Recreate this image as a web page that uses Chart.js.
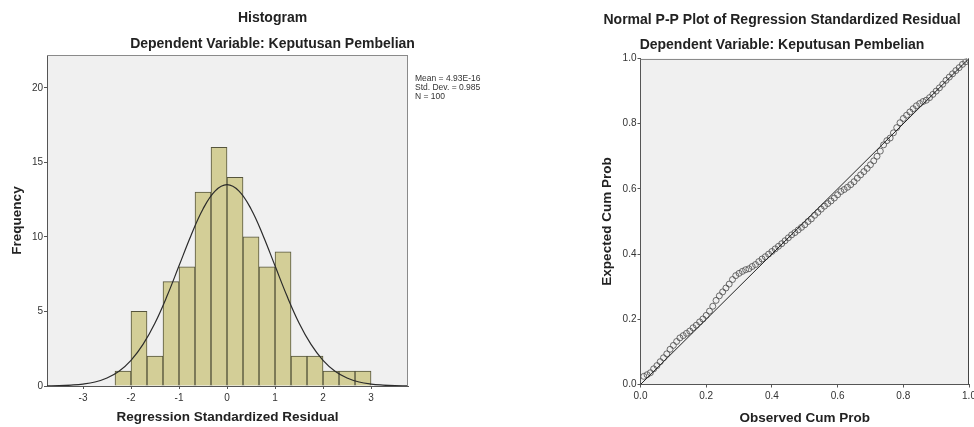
<!DOCTYPE html>
<html>
<head>
<meta charset="utf-8">
<script src="https://cdn.jsdelivr.net/npm/chart.js@4/dist/chart.umd.min.js"></script>
<style>
  html, body { margin: 0; padding: 0; background: #ffffff; overflow: hidden; width: 974px; height: 427px; }
  #left { position: absolute; left: 0; top: 0; }
  #right { position: absolute; left: 590px; top: 0; }
</style>
</head>
<body>
<canvas id="left" width="545" height="427" style="width:545px;height:427px"></canvas>
<canvas id="right" width="384" height="427" style="width:384px;height:427px"></canvas>
<script>
// ---------- Histogram data ----------
const binCenters = [-2.1667, -1.8333, -1.5, -1.1667, -0.8333, -0.5, -0.1667, 0.1667,
                    0.5, 0.8333, 1.1667, 1.5, 1.8333, 2.1667, 2.5, 2.8333];
const binCounts  = [1, 5, 2, 7, 8, 13, 16, 14, 10, 8, 9, 2, 2, 1, 1, 1];

// normal curve
const curveX = [-3.75, -3.5, -3.25, -3, -2.75, -2.5, -2.25, -2, -1.75, -1.5, -1.25, -1, -0.75, -0.5, -0.25, 0,
                0.25, 0.5, 0.75, 1, 1.25, 1.5, 1.75, 2, 2.25, 2.5, 2.75, 3, 3.25, 3.5, 3.75];
const curveY = [0.01, 0.02, 0.06, 0.13, 0.27, 0.54, 0.99, 1.72, 2.79, 4.23, 6.03, 8.06, 10.10, 11.87, 13.07, 13.5,
                13.07, 11.87, 10.10, 8.06, 6.03, 4.23, 2.79, 1.72, 0.99, 0.54, 0.27, 0.13, 0.06, 0.02, 0.01];

const histXTicks = [-3, -2, -1, 0, 1, 2, 3];
const histYTicks = [0, 5, 10, 15, 20];
const statLines = ['Mean = 4.93E-16', 'Std. Dev. = 0.985', 'N = 100'];

// ---------- P-P plot data ----------
const observedCum = [0.01,0.02,0.03,0.04,0.05,0.06,0.07,0.08,0.09,0.10,
                     0.11,0.12,0.13,0.14,0.15,0.16,0.17,0.18,0.19,0.20,
                     0.21,0.22,0.23,0.24,0.25,0.26,0.27,0.28,0.29,0.30,
                     0.31,0.32,0.33,0.34,0.35,0.36,0.37,0.38,0.39,0.40,
                     0.41,0.42,0.43,0.44,0.45,0.46,0.47,0.48,0.49,0.50,
                     0.51,0.52,0.53,0.54,0.55,0.56,0.57,0.58,0.59,0.60,
                     0.61,0.62,0.63,0.64,0.65,0.66,0.67,0.68,0.69,0.70,
                     0.71,0.72,0.73,0.74,0.75,0.76,0.77,0.78,0.79,0.80,
                     0.81,0.82,0.83,0.84,0.85,0.86,0.87,0.88,0.89,0.90,
                     0.91,0.92,0.93,0.94,0.95,0.96,0.97,0.98,0.99,1.00];
const expectedCum = [0.025,0.030,0.036,0.048,0.058,0.070,0.082,0.094,0.108,0.120,
                     0.132,0.143,0.150,0.157,0.164,0.174,0.182,0.192,0.201,0.212,
                     0.225,0.240,0.258,0.272,0.284,0.296,0.308,0.322,0.334,0.341,
                     0.347,0.352,0.355,0.362,0.368,0.377,0.385,0.392,0.400,0.408,
                     0.416,0.424,0.432,0.441,0.450,0.459,0.466,0.474,0.482,0.490,
                     0.500,0.508,0.519,0.528,0.538,0.547,0.555,0.563,0.572,0.582,
                     0.592,0.598,0.605,0.613,0.622,0.633,0.643,0.653,0.663,0.674,
                     0.686,0.700,0.716,0.735,0.748,0.756,0.772,0.788,0.803,0.816,
                     0.826,0.836,0.846,0.855,0.862,0.868,0.872,0.880,0.890,0.900,
                     0.910,0.921,0.933,0.943,0.953,0.963,0.972,0.982,0.990,0.996];
const diagX = [0, 1];
const diagY = [0, 1];
const ppTicks = [0, 0.2, 0.4, 0.6, 0.8, 1.0];

// ---------- shared styling ----------
const FONT = "'Liberation Sans', Arial, sans-serif";
const PLOT_BG = '#f0f0f0';
const AXIS_COLOR = '#555555';
const TITLE_SIZE = 14;
const AXIS_TITLE_SIZE = 13.5;
const TICK_SIZE = 10;

function makeFrame(rightColor) {
  return {
    id: 'frame',
    beforeDraw(chart) {
      const a = chart.chartArea, ctx = chart.ctx;
      ctx.save();
      ctx.fillStyle = PLOT_BG;
      ctx.fillRect(a.left, a.top, a.right - a.left, a.bottom - a.top);
      ctx.restore();
    },
    afterDraw(chart) {
      const a = chart.chartArea, ctx = chart.ctx;
      ctx.save();
      ctx.lineWidth = 1;
      ctx.strokeStyle = '#8a8a8a';
      ctx.beginPath();
      ctx.moveTo(a.left, Math.round(a.top) + 0.5);
      ctx.lineTo(a.right, Math.round(a.top) + 0.5);
      ctx.stroke();
      ctx.strokeStyle = rightColor;
      ctx.beginPath();
      ctx.moveTo(Math.round(a.right) - 0.5, a.top);
      ctx.lineTo(Math.round(a.right) - 0.5, a.bottom);
      ctx.stroke();
      ctx.restore();
    }
  };
}

const statsPlugin = {
  id: 'stats',
  afterDraw(chart) {
    const ctx = chart.ctx;
    ctx.save();
    ctx.fillStyle = '#333333';
    ctx.font = '8.5px ' + FONT;
    ctx.textBaseline = 'middle';
    statLines.forEach((t, i) => ctx.fillText(t, 415, 79 + i * 9));
    ctx.restore();
  }
};

function fixedTicks(arr) {
  return function (scale) { scale.ticks = arr.map(v => ({ value: v })); };
}

function spacerAxis(w) {
  return {
    position: 'right', display: true, min: 0, max: 1,
    grid: { display: false, drawTicks: false },
    border: { display: false },
    ticks: { display: false },
    afterFit(s) { s.width = w; }
  };
}

// ---------- Histogram ----------
new Chart(document.getElementById('left'), {
  type: 'bar',
  data: {
    datasets: [
      {
        type: 'line',
        order: 0,
        data: curveX.map((x, i) => ({ x: x, y: curveY[i] })),
        borderColor: '#2b2b2b',
        borderWidth: 1.2,
        pointRadius: 0,
        tension: 0.4,
        fill: false
      },
      {
        type: 'bar',
        order: 1,
        data: binCenters.map((x, i) => ({ x: x, y: binCounts[i] })),
        backgroundColor: '#d3ce97',
        borderColor: '#55543c',
        borderWidth: 1,
        borderSkipped: 'start',
        barPercentage: 1,
        categoryPercentage: 1
      }
    ]
  },
  options: {
    responsive: false,
    animation: false,
    devicePixelRatio: 1,
    layout: { padding: 0 },
    plugins: {
      legend: { display: false },
      tooltip: { enabled: false },
      title: {
        display: true, text: 'Histogram', color: '#222',
        font: { family: FONT, size: TITLE_SIZE, weight: 'bold' },
        padding: { top: 9.6, bottom: 4.6 }
      },
      subtitle: {
        display: true, text: 'Dependent Variable: Keputusan Pembelian', color: '#222',
        font: { family: FONT, size: TITLE_SIZE, weight: 'bold' },
        padding: { top: 4.6, bottom: 2.6 }
      }
    },
    scales: {
      x: {
        type: 'linear', offset: false, min: -3.75, max: 3.77,
        afterBuildTicks: fixedTicks(histXTicks),
        afterFit(s) { s.height = 41; s.paddingLeft = 0; s.paddingRight = 0; },
        grid: { offset: false, drawOnChartArea: false, drawTicks: true, tickLength: 3, color: AXIS_COLOR },
        border: { display: true, color: AXIS_COLOR, width: 1 },
        ticks: { color: '#333', font: { family: FONT, size: TICK_SIZE }, padding: 3, autoSkip: false, maxRotation: 0 },
        title: {
          display: true, text: 'Regression Standardized Residual', color: '#222',
          font: { family: FONT, size: AXIS_TITLE_SIZE, weight: 'bold' }, padding: { top: 0, bottom: 1.9 }
        }
      },
      y: {
        min: 0, max: 22.2,
        afterBuildTicks: fixedTicks(histYTicks),
        afterFit(s) { s.width = 47; },
        grid: { drawOnChartArea: false, drawTicks: true, tickLength: 3, color: AXIS_COLOR },
        border: { display: true, color: AXIS_COLOR, width: 1 },
        ticks: { color: '#333', font: { family: FONT, size: TICK_SIZE }, padding: 1 },
        title: {
          display: true, text: 'Frequency', color: '#222',
          font: { family: FONT, size: AXIS_TITLE_SIZE, weight: 'bold' }, padding: { top: 9.4, bottom: 0 }
        }
      },
      yspace: spacerAxis(137)
    }
  },
  plugins: [makeFrame('#8a8a8a'), statsPlugin]
});

// ---------- P-P plot ----------
new Chart(document.getElementById('right'), {
  type: 'scatter',
  data: {
    datasets: [
      {
        type: 'line',
        order: 0,
        data: diagX.map((x, i) => ({ x: x, y: diagY[i] })),
        borderColor: '#222222',
        borderWidth: 1,
        pointRadius: 0,
        showLine: true,
        fill: false
      },
      {
        order: 1,
        data: observedCum.map((x, i) => ({ x: x, y: expectedCum[i] })),
        pointRadius: 3,
        pointStyle: 'circle',
        borderColor: '#4a4a4a',
        backgroundColor: 'rgba(0,0,0,0)',
        borderWidth: 0.8
      }
    ]
  },
  options: {
    responsive: false,
    animation: false,
    devicePixelRatio: 1,
    layout: { padding: 0 },
    plugins: {
      legend: { display: false },
      tooltip: { enabled: false },
      title: {
        display: true, text: 'Normal P-P Plot of Regression Standardized Residual', color: '#222',
        font: { family: FONT, size: TITLE_SIZE, weight: 'bold' },
        padding: { top: 11.6, bottom: 4.1 }
      },
      subtitle: {
        display: true, text: 'Dependent Variable: Keputusan Pembelian', color: '#222',
        font: { family: FONT, size: TITLE_SIZE, weight: 'bold' },
        padding: { top: 4.1, bottom: 5.1 }
      }
    },
    scales: {
      x: {
        type: 'linear', min: 0, max: 1,
        afterBuildTicks: fixedTicks(ppTicks),
        afterFit(s) { s.height = 42.5; s.paddingLeft = 0; s.paddingRight = 0; },
        grid: { drawOnChartArea: false, drawTicks: true, tickLength: 3, color: AXIS_COLOR },
        border: { display: true, color: AXIS_COLOR, width: 1 },
        ticks: { color: '#333', font: { family: FONT, size: TICK_SIZE }, padding: 3, autoSkip: false, maxRotation: 0,
                 callback: v => v.toFixed(1) },
        title: {
          display: true, text: 'Observed Cum Prob', color: '#222',
          font: { family: FONT, size: AXIS_TITLE_SIZE, weight: 'bold' }, padding: { top: 0, bottom: 0.9 }
        }
      },
      y: {
        min: 0, max: 1,
        afterBuildTicks: fixedTicks(ppTicks),
        afterFit(s) { s.width = 50.5; s.paddingTop = 0; s.paddingBottom = 0; },
        grid: { drawOnChartArea: false, drawTicks: true, tickLength: 3, color: AXIS_COLOR },
        border: { display: true, color: AXIS_COLOR, width: 1 },
        ticks: { color: '#333', font: { family: FONT, size: TICK_SIZE }, padding: 1, callback: v => v.toFixed(1) },
        title: {
          display: true, text: 'Expected Cum Prob', color: '#222',
          font: { family: FONT, size: AXIS_TITLE_SIZE, weight: 'bold' }, padding: { top: 8.9, bottom: 0 }
        }
      },
      yspace: spacerAxis(5)
    }
  },
  plugins: [makeFrame('#444444')]
});
</script>
</body>
</html>
